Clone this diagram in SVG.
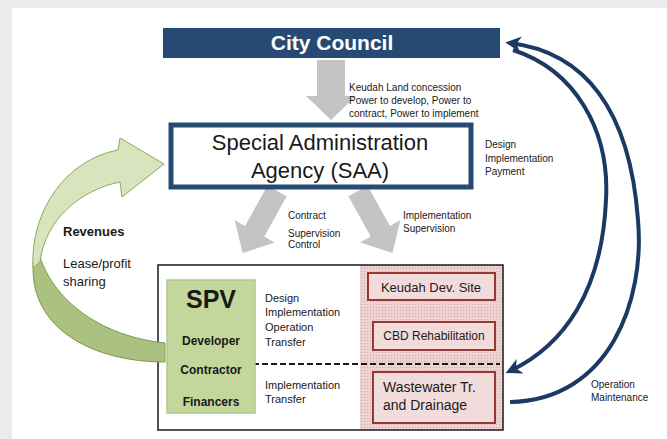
<svg xmlns="http://www.w3.org/2000/svg" width="667" height="439" viewBox="0 0 667 439">
  <defs>
    <style>
      .t { font-family: "Liberation Sans", Arial, sans-serif; fill: #1a1a1a; }
      .small { font-size: 10px; }
      .mid { font-size: 11px; }
      .b { font-weight: bold; }
      .grey-arrow { fill: #c4c4c4; }
      .site { fill: #f2dcdb; stroke: #953735; stroke-width: 2; }
      .flow { fill: none; stroke: #1b3a63; stroke-width: 4; }
    </style>
    <pattern id="dots" width="3" height="3" patternUnits="userSpaceOnUse">
      <rect width="3" height="3" fill="#eed2d2"/>
      <rect x="1" y="1" width="1" height="1" fill="#d6a9a9"/>
    </pattern>
    <marker id="head" viewBox="0 0 10 10" refX="7" refY="5" markerWidth="16" markerHeight="16" markerUnits="userSpaceOnUse" orient="auto">
      <path d="M0,0 L10,5 L0,10 L3,5 Z" fill="#1b3a63"/>
    </marker>
  </defs>

  <!-- page margin -->
  <rect width="667" height="439" fill="#ffffff"/>
  <rect width="667" height="8" fill="#ebebeb"/>
  <rect width="12" height="439" fill="#ebebeb"/>

  <!-- connectors -->
  <g id="connectors">
    <!-- council to agency -->
    <polygon class="grey-arrow" transform="translate(331,60)" points="-14,0 14,0 14,36 25,36 0,60 -25,36 -14,36"/>
    <!-- agency to SPV -->
    <polygon class="grey-arrow" transform="translate(277,191) rotate(29)" points="-11,0 11,0 11,46 23,46 0,71 -23,46 -11,46"/>
    <!-- agency to sites -->
    <polygon class="grey-arrow" transform="translate(358,191) rotate(-29)" points="-11,0 11,0 11,46 23,46 0,71 -23,46 -11,46"/>
    <!-- operation / maintenance loop -->
    <path class="flow" d="M510,402 C610,400 645,300 638,220 C630,110 585,52 510,43" marker-end="url(#head)"/>
    <!-- design / implementation / payment loop -->
    <path class="flow" d="M513,50 C575,70 610,130 606,200 C602,290 565,345 510,371" marker-end="url(#head)"/>
  </g>

  <!-- city council -->
  <g id="city-council">
    <rect x="163" y="28" width="337" height="30" fill="#264a73"/>
    <text class="t b" x="332" y="50" font-size="21" style="fill:#ffffff" text-anchor="middle">City Council</text>
  </g>

  <g id="council-label">
    <text class="t small" x="349" y="91">Keudah Land concession</text>
    <text class="t small" x="349" y="104">Power to develop, Power to</text>
    <text class="t small" x="349" y="117">contract, Power to implement</text>
  </g>

  <!-- special administration agency -->
  <g id="saa">
    <rect x="171" y="125" width="300" height="62" fill="#ffffff" stroke="#264a73" stroke-width="5"/>
    <text class="t" x="320" y="150" font-size="22" text-anchor="middle">Special Administration</text>
    <text class="t" x="320" y="178" font-size="22" text-anchor="middle">Agency (SAA)</text>
  </g>

  <g id="saa-label">
    <text class="t small" x="485" y="148">Design</text>
    <text class="t small" x="485" y="162">Implementation</text>
    <text class="t small" x="485" y="175">Payment</text>
  </g>

  <g id="contract-label">
    <text class="t small" x="288" y="219">Contract</text>
    <text class="t small" x="288" y="237">Supervision</text>
    <text class="t small" x="288" y="248">Control</text>
  </g>

  <g id="supervision-label">
    <text class="t small" x="403" y="219">Implementation</text>
    <text class="t small" x="403" y="232">Supervision</text>
  </g>

  <!-- project frame -->
  <g id="project-frame">
    <rect x="158" y="265" width="345" height="165" fill="#ffffff"/>
    <rect x="360" y="265" width="143" height="165" fill="url(#dots)"/>
    <rect x="158" y="265" width="345" height="165" fill="none" stroke="#1a1a1a" stroke-width="1.5"/>
    <line x1="253" y1="364" x2="500" y2="364" stroke="#1a1a1a" stroke-width="2" stroke-dasharray="6,3"/>
  </g>

  <!-- revenue flow -->
  <g id="revenue-arrow">
    <path d="M165,343 L165,362 C100,362 42,335 34,282 C32,268 33,255 37,245 C45,290 90,335 165,343 Z" fill="#abc182" stroke="#7f9a4e" stroke-width="1"/>
    <path d="M33,268 C30,212 65,160 118,150 L120,138 L164,164 L122,197 L120,182 C80,190 45,220 40,262 Z" fill="#d7e4bd" stroke="#8faa5a" stroke-width="1"/>
  </g>

  <g id="revenue-label">
    <text class="t b" x="63" y="236" font-size="13">Revenues</text>
    <text class="t" x="63" y="268" font-size="13">Lease/profit</text>
    <text class="t" x="63" y="286" font-size="13">sharing</text>
  </g>

  <!-- special purpose vehicle -->
  <g id="spv">
    <rect x="167" y="280" width="88" height="133" fill="#c3d69b" stroke="#b2c78a" stroke-width="1.5"/>
    <text class="t b" x="211" y="308" font-size="25" text-anchor="middle">SPV</text>
    <text class="t b" x="211" y="345" font-size="12" text-anchor="middle">Developer</text>
    <text class="t b" x="211" y="374" font-size="12" text-anchor="middle">Contractor</text>
    <text class="t b" x="211" y="406" font-size="12" text-anchor="middle">Financers</text>
  </g>

  <g id="spv-tasks">
    <text class="t mid" x="265" y="302">Design</text>
    <text class="t mid" x="265" y="316">Implementation</text>
    <text class="t mid" x="265" y="331">Operation</text>
    <text class="t mid" x="265" y="346">Transfer</text>
    <text class="t mid" x="265" y="389">Implementation</text>
    <text class="t mid" x="265" y="403">Transfer</text>
  </g>

  <!-- project sites -->
  <g id="keudah-site">
    <rect class="site" x="368" y="273" width="127" height="27"/>
    <text class="t" x="431" y="292" font-size="13" text-anchor="middle">Keudah Dev. Site</text>
  </g>
  <g id="cbd-rehab">
    <rect class="site" x="373" y="322" width="122" height="28"/>
    <text class="t" x="434" y="340" font-size="12" text-anchor="middle">CBD Rehabilitation</text>
  </g>
  <g id="wastewater">
    <rect class="site" x="373" y="372" width="122" height="51"/>
    <text class="t" x="383" y="392" font-size="14">Wastewater Tr.</text>
    <text class="t" x="383" y="410" font-size="14">and Drainage</text>
  </g>

  <g id="operation-label">
    <text class="t small" x="591" y="388">Operation</text>
    <text class="t small" x="591" y="401">Maintenance</text>
  </g>
</svg>
